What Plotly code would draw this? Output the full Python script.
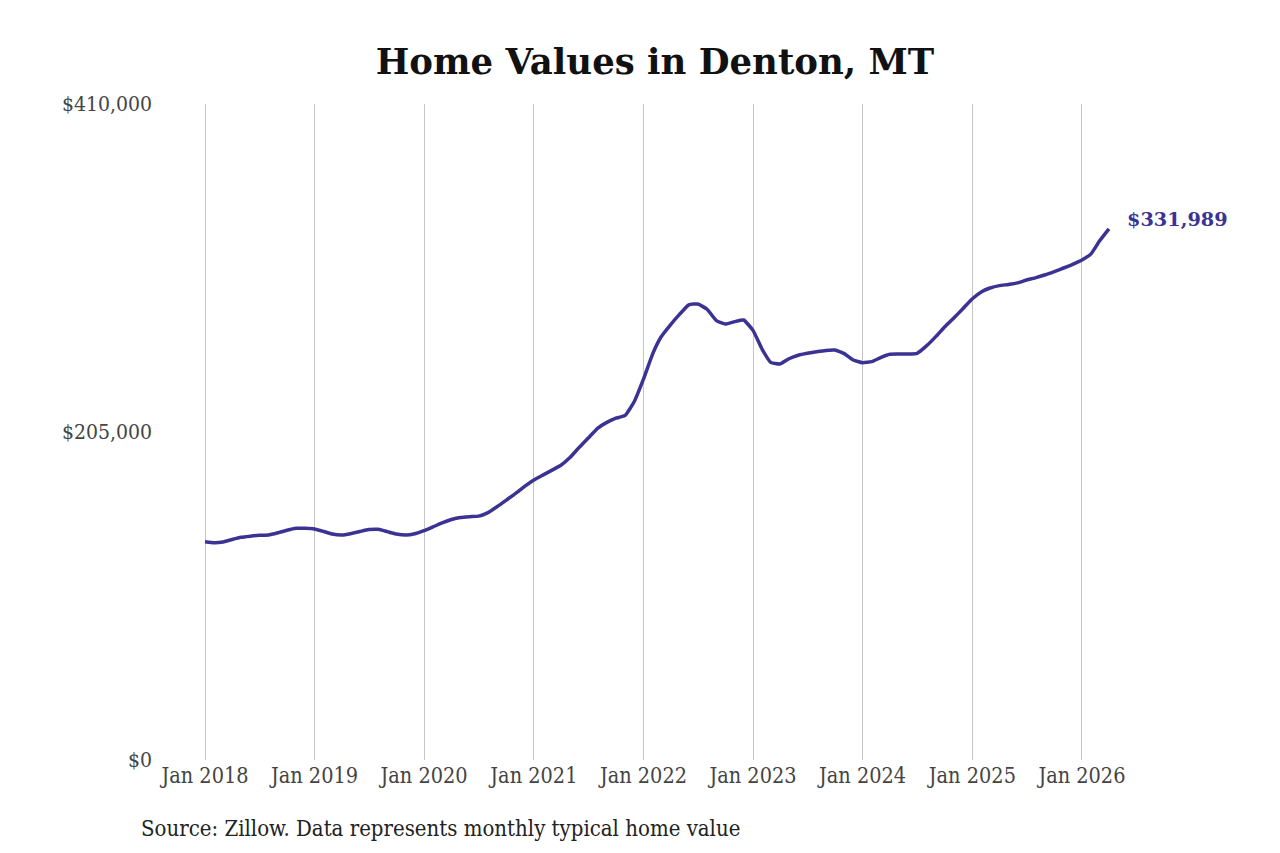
import plotly.graph_objects as go
import pandas as pd

dates = pd.date_range("2018-01-01", periods=100, freq="MS")
values = [
    136400, 135800, 136200, 137800, 139200, 139900, 140400, 140600, 142000, 143600, 144800, 144800,
    144400, 142800, 141200, 140600, 141400, 142800, 144000, 144200, 142700, 141200, 140600, 141400,
    143300, 145800, 148200, 150300, 151600, 152100, 152400, 154600, 158400, 162400, 166600, 171000,
    175000, 178200, 181000, 184200, 189000, 195400, 201200, 207300, 211000, 213600, 215400, 223900,
    238000, 254000, 264500, 272000, 278500, 284500, 285000, 281700, 274600, 272500, 274000, 275000,
    268500, 256500, 248500, 247500, 250800, 253000, 254200, 255200, 256000, 256200, 254000, 250000,
    248300, 249000, 251500, 253600, 253700, 253700, 254200, 258800, 264600, 270800, 276400, 282200,
    288300, 292700, 295000, 296500, 297200, 298200, 300000, 301500, 303300, 305300, 307500, 309800,
    312500, 316500, 324500, 331989,
]
y_ticks = [0, 205000, 410000]
y_tick_labels = ["$0", "$205,000", "$410,000"]
title = "Home Values in Denton, MT"
source = "Source: Zillow. Data represents monthly typical home value"
end_label = "$331,989"

line_color = "#3b3394"
font_fam = "DejaVu Serif Condensed, DejaVu Serif, serif"

W, H = 1280, 853
L, R, T, B = 145, 160, 96, 101
PX_PER_MONTH = 877 / 96.0
FIRST_X = 197  # figure px of Jan 2018

x_start = pd.Timestamp("2018-01-01") - pd.Timedelta(days=(FIRST_X - L) / PX_PER_MONTH * 30.44)
x_end = pd.Timestamp("2018-01-01") + pd.Timedelta(days=(W - R - FIRST_X) / PX_PER_MONTH * 30.44)

fig = go.Figure()
fig.add_trace(go.Scatter(
    x=dates, y=values, mode="lines",
    line=dict(color=line_color, width=3.5, shape="spline", smoothing=0.4),
    hoverinfo="skip", showlegend=False, cliponaxis=False,
))

fig.add_annotation(
    x=dates[-1], y=values[-1], text="<b>" + end_label + "</b>",
    showarrow=False, xanchor="left", yanchor="middle", xshift=16, yshift=9,
    font=dict(family="DejaVu Serif, serif", size=19.3, color=line_color),
)
fig.add_annotation(
    x=(131 - L) / (W - L - R), y=(H - B - 820) / (H - T - B),
    xref="paper", yref="paper", text=source, showarrow=False,
    xanchor="left", yanchor="middle",
    font=dict(family=font_fam, size=22, color="#222222"),
)

fig.update_layout(
    width=W, height=H,
    margin=dict(l=L, r=R, t=T, b=B),
    paper_bgcolor="white", plot_bgcolor="white",
    title=dict(text="<b>" + title + "</b>", x=0.5055, xanchor="center", y=1 - 54 / H, yanchor="middle",
               font=dict(family="DejaVu Serif, serif", size=35.5, color="#111111")),
    xaxis=dict(
        range=[x_start, x_end], tickmode="linear", tick0="2018-01-01", dtick="M12",
        tickformat="%b %Y", showgrid=True, gridcolor="#c4c4c4", gridwidth=1,
        zeroline=False, showline=False, ticks="",
        tickfont=dict(family=font_fam, size=21.5, color="#444444"),
    ),
    yaxis=dict(
        range=[0, 410000], tickvals=y_ticks, ticktext=y_tick_labels,
        showgrid=False, zeroline=False, showline=False, ticks="",
        tickfont=dict(family=font_fam, size=21, color="#444444"),
    ),
)

fig.write_html("out.html")
